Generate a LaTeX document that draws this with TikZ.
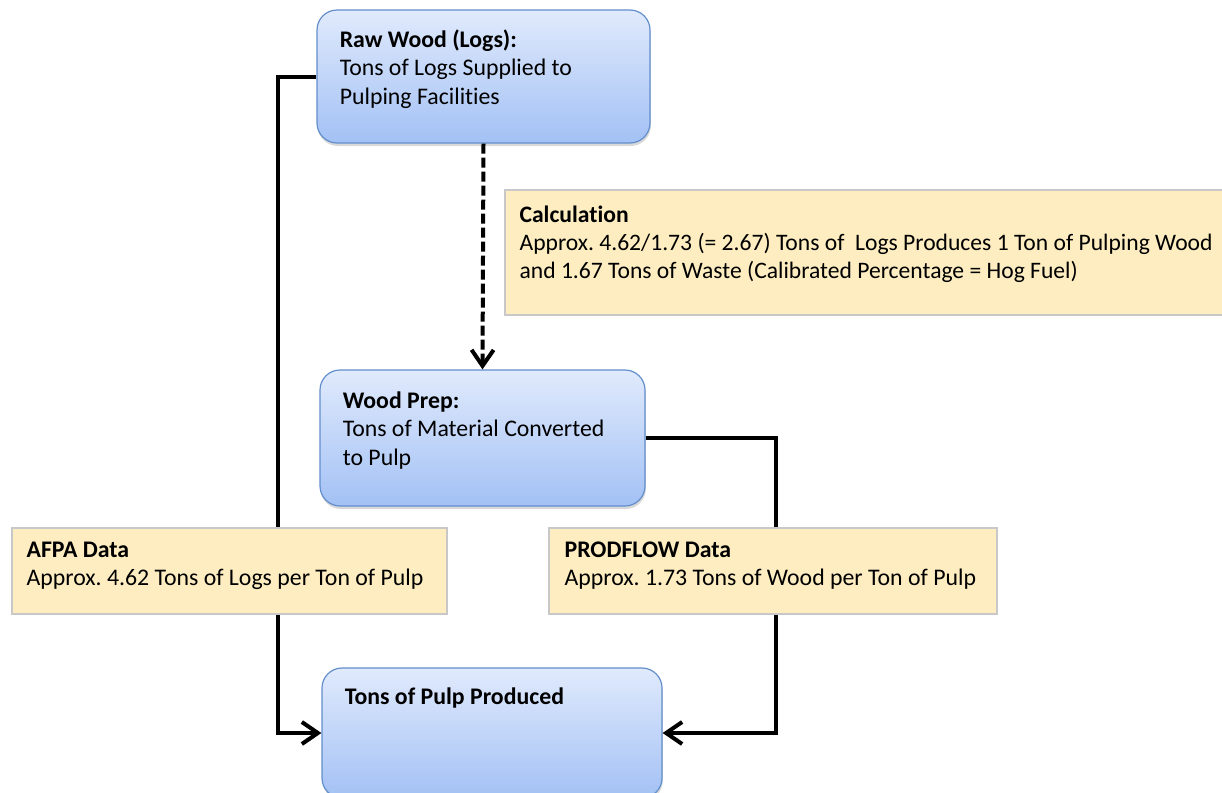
\documentclass[tikz,border=0pt]{standalone}
\usepackage{fontspec}
\setmainfont{Carlito}[Ligatures=NoCommon]
\usetikzlibrary{arrows.meta,shadows}
\definecolor{boxtop}{RGB}{224,234,252}
\definecolor{boxbottom}{RGB}{163,193,245}
\definecolor{boxedge}{RGB}{98,142,204}
\definecolor{notefill}{RGB}{253,237,193}
\definecolor{noteedge}{RGB}{200,200,200}
\frenchspacing

\begin{document}
\begin{tikzpicture}[x=0.5pt, y=-0.5pt, stepbox/.style={rectangle, rounded corners=10pt, draw=boxedge, line width=0.6pt, top color=boxtop, bottom color=boxbottom, drop shadow={shadow xshift=0.4pt, shadow yshift=-1.5pt, opacity=0.3}}, notebox/.style={rectangle, draw=noteedge, line width=0.8pt, fill=notefill}, boxtext/.style={anchor=north west, inner sep=0pt, align=left, font=\fontsize{11.9}{14.2}\selectfont}, flow/.style={line width=2pt, -{Straight Barb[length=8pt,width=11pt]}}]

\clip (0,0) rectangle (1222,793);

\node[stepbox, minimum width=166.5pt, minimum height=66.5pt] (rawwood) at (483.5, 76.5) {};
\node[boxtext] (rawwoodtext) at ([shift={(23,20)}]rawwood.north west) {\textbf{Raw Wood (Logs):}\\Tons of Logs Supplied to\\Pulping Facilities};
\node[stepbox, minimum width=162.5pt, minimum height=68pt] (woodprep) at (482.5, 438) {};
\node[boxtext] (woodpreptext) at ([shift={(23,22)}]woodprep.north west) {\textbf{Wood Prep:}\\Tons of Material Converted\\to Pulp};
\node[stepbox, minimum width=170pt, minimum height=65pt] (pulp) at (492, 733) {};
\node[boxtext] (pulptext) at ([shift={(23,20)}]pulp.north west) {\textbf{Tons of Pulp Produced}};

\draw [flow] (rawwood.west) -- ++(-38,0) |- (pulp.west);
\draw [flow, dash pattern=on 5pt off 2pt] (rawwood.south) -- (woodprep.north);
\draw [flow] (woodprep.east) -- ++(130,0) |- (pulp.east);

\node[notebox, minimum width=362.5pt, minimum height=62.5pt] (calc) at (867.5, 252.5) {};
\node[boxtext, font=\fontsize{11.8}{14.2}\selectfont] (calctext) at ([shift={(15,16)}]calc.north west) {\textbf{Calculation}\\Approx. 4.62/1.73 (= 2.67) Tons of~ Logs Produces 1 Ton of Pulping Wood\\and 1.67 Tons of Waste (Calibrated Percentage = Hog Fuel)};
\node[notebox, minimum width=217.5pt, minimum height=43pt] (afpa) at (229.5, 571) {};
\node[boxtext] (afpatext) at ([shift={(15,14)}]afpa.north west) {\textbf{AFPA Data}\\Approx. 4.62 Tons of Logs per Ton of Pulp};
\node[notebox, minimum width=224pt, minimum height=43pt] (prodflow) at (773, 571) {};
\node[boxtext] (prodflowtext) at ([shift={(16,14)}]prodflow.north west) {\textbf{PRODFLOW Data}\\Approx. 1.73 Tons of Wood per Ton of Pulp};

\end{tikzpicture}
\end{document}
